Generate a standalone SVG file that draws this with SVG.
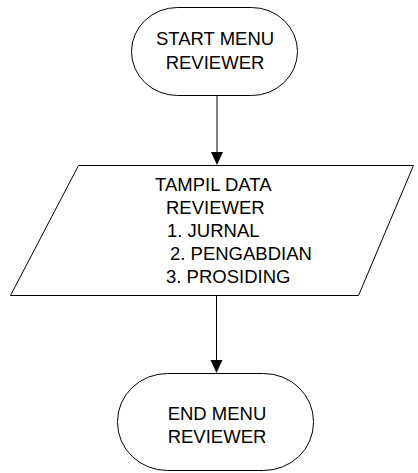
<svg xmlns="http://www.w3.org/2000/svg" width="418" height="473" viewBox="0 0 418 473">
  <style>
    .shape { fill: #ffffff; stroke: #000000; stroke-width: 1; }
    .label { font-family: "Liberation Sans", Arial, sans-serif; font-size: 18.5px; fill: #000000; }
    .mid { text-anchor: middle; }
    .flow { stroke: #000000; stroke-width: 1; fill: none; }
    .head { fill: #000000; }
  </style>
  <rect width="418" height="473" fill="#ffffff"/>

  <g id="connectors">
    <line class="flow" x1="217" y1="95" x2="217" y2="152"/>
    <path class="head" d="M211,152 L223,152 L217,165 Z"/>
    <line class="flow" x1="216.5" y1="295" x2="216.5" y2="360"/>
    <path class="head" d="M210.5,360 L222.5,360 L216.5,373 Z"/>
  </g>

  <g id="start">
    <rect class="shape" x="131.5" y="7.5" width="166" height="88" rx="46" ry="44"/>
    <text class="label mid" x="215" y="45">START MENU</text>
    <text class="label mid" x="215" y="69">REVIEWER</text>
  </g>

  <g id="tampil-data">
    <polygon class="shape" points="78.5,165.5 413.5,165.5 358.5,295.5 10.5,295.5"/>
    <text class="label" x="155" y="191">TAMPIL DATA</text>
    <text class="label" x="166" y="214">REVIEWER</text>
    <text class="label" x="167" y="237">1. JURNAL</text>
    <text class="label" x="170" y="260">2. PENGABDIAN</text>
    <text class="label" x="166" y="283">3. PROSIDING</text>
  </g>

  <g id="end">
    <rect class="shape" x="117.5" y="373.5" width="196" height="97" rx="50" ry="48"/>
    <text class="label mid" x="217" y="420">END MENU</text>
    <text class="label mid" x="217" y="443">REVIEWER</text>
  </g>
</svg>
